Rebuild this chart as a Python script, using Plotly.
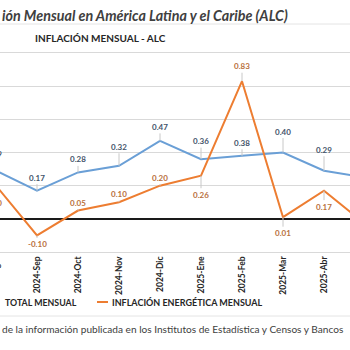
import plotly.graph_objects as go

# ---------------- data ----------------
months = ["2024-Ago", "2024-Sep", "2024-Oct", "2024-Nov", "2024-Dic",
          "2025-Ene", "2025-Feb", "2025-Mar", "2025-Abr", "2025-May"]
inflacion_total = [0.29, 0.17, 0.28, 0.32, 0.47, 0.36, 0.38, 0.40, 0.29, 0.25]
inflacion_energetica = [0.20, -0.10, 0.05, 0.10, 0.20, 0.26, 0.83, 0.01, 0.17, -0.03]

# label offsets (pixels, negative = above the point)
total_offsets = [-17, -13, -13, -19, -14, -18, -13, -21, -21, None]
energ_offsets = [17, 9, -8, -8, -8, 19, -15, 16, 16, None]

# ---------------- geometry ----------------
W, H = 350, 350
M_T, M_B = 53, 98
PLOT_H = H - M_T - M_B
STEP = 41.0          # pixels per month
FIRST_SHOWN = 37.0   # pixel position of 2024-Sep
x0 = 1 - FIRST_SHOWN / STEP
x1 = x0 + W / STEP
y0, y1 = -0.2, 1.0

def paper_x(i):
    return (i - x0) / (x1 - x0)

def paper_y(v):
    return (v - y0) / (y1 - y0)

def pix_y(p):  # pixel from top of figure -> paper y
    return (H - M_B - p) / PLOT_H

BLUE = "#6A9FD6"
ORANGE = "#ED7D31"
BLUE_TXT = "#44546A"
ORANGE_TXT = "#B8703C"
idx = list(range(len(months)))

fig = go.Figure()
fig.add_trace(go.Scatter(x=idx, y=inflacion_total, mode="lines",
                         line=dict(color=BLUE, width=2), name="INFLACIÓN TOTAL MENSUAL",
                         hoverinfo="skip"))
fig.add_trace(go.Scatter(x=idx, y=inflacion_energetica, mode="lines",
                         line=dict(color=ORANGE, width=2), name="INFLACIÓN ENERGÉTICA MENSUAL",
                         hoverinfo="skip"))

annotations = []

def add_labels(values, offsets, color):
    for i, (v, off) in enumerate(zip(values, offsets)):
        if off is None:
            continue
        inside = x0 <= i <= x1
        ann = dict(text=f"{v:.2f}", showarrow=True, arrowhead=0, arrowwidth=1,
                   arrowcolor="#C8C8C8", ax=0, ay=off, standoff=0,
                   font=dict(family="Lato", size=8, color=color, weight="bold"))
        if inside:
            ann.update(x=i, y=v, xref="x", yref="y")
        else:
            ann.update(x=paper_x(i), y=paper_y(v), xref="paper", yref="paper", xshift=-6)
        annotations.append(ann)

add_labels(inflacion_total, total_offsets, BLUE_TXT)
add_labels(inflacion_energetica, energ_offsets, ORANGE_TXT)

# clipped first tick label
annotations.append(dict(text="2024-Ago", x=paper_x(0), y=pix_y(257), xref="paper", yref="paper",
                        xanchor="center", yanchor="top", textangle=-90, showarrow=False,
                        font=dict(family="Lato", size=8.5, color="#262626", weight="bold")))

# titles
annotations.append(dict(text="ión Mensual en América Latina y el Caribe (ALC)",
                        x=0, y=pix_y(15), xref="paper", yref="paper", xanchor="left",
                        yanchor="middle", showarrow=False,
                        font=dict(family="Lato", size=14.3, color="#404040", weight="bold",
                                  style="italic")))
annotations.append(dict(text="INFLACIÓN MENSUAL - ALC",
                        x=33 / W, y=pix_y(38), xref="paper", yref="paper", xanchor="left",
                        yanchor="middle", showarrow=False,
                        font=dict(family="Lato", size=10, color="#262626", weight="bold")))
# legend
annotations.append(dict(text="TOTAL MENSUAL",
                        x=3 / W, y=pix_y(302), xref="paper", yref="paper", xanchor="left",
                        yanchor="middle", showarrow=False,
                        font=dict(family="Lato", size=8.8, color="#262626", weight="bold")))
annotations.append(dict(text="INFLACIÓN ENERGÉTICA MENSUAL",
                        x=110 / W, y=pix_y(302), xref="paper", yref="paper", xanchor="left",
                        yanchor="middle", showarrow=False,
                        font=dict(family="Lato", size=9, color="#262626", weight="bold")))
# source
annotations.append(dict(text="de la información publicada en los Institutos de Estadística y Censos y Bancos",
                        x=0, y=pix_y(329), xref="paper", yref="paper", xanchor="left",
                        yanchor="middle", showarrow=False,
                        font=dict(family="Lato", size=10.1, color="#404040")))

shapes = [
    dict(type="line", xref="paper", yref="paper", x0=0, x1=1, y0=pix_y(24), y1=pix_y(24),
         line=dict(color="#E4E4E4", width=1)),
    dict(type="line", xref="paper", yref="paper", x0=0, x1=1, y0=pix_y(316), y1=pix_y(316),
         line=dict(color="#E4E4E4", width=1)),
    dict(type="line", xref="paper", yref="paper", x0=97 / W, x1=108 / W, y0=pix_y(302),
         y1=pix_y(302), line=dict(color=ORANGE, width=2)),
]

fig.update_layout(
    width=W, height=H,
    margin=dict(l=0, r=0, t=M_T, b=M_B, pad=0),
    paper_bgcolor="white", plot_bgcolor="white",
    showlegend=False,
    annotations=annotations, shapes=shapes,
    xaxis=dict(range=[x0, x1], tickmode="array", tickvals=idx, ticktext=months,
               tickangle=-90, showgrid=False, zeroline=False, showline=True, mirror=True,
               linecolor="#D9D9D9", linewidth=1, ticks="",
               tickfont=dict(family="Lato", size=8.5, color="#262626", weight="bold")),
    yaxis=dict(range=[y0, y1], dtick=0.2, tick0=0, showticklabels=False,
               gridcolor="#D9D9D9", gridwidth=1, zeroline=True, zerolinecolor="#1A1A1A",
               zerolinewidth=2, showline=False, ticks=""),
)

fig.write_html("out.html")
